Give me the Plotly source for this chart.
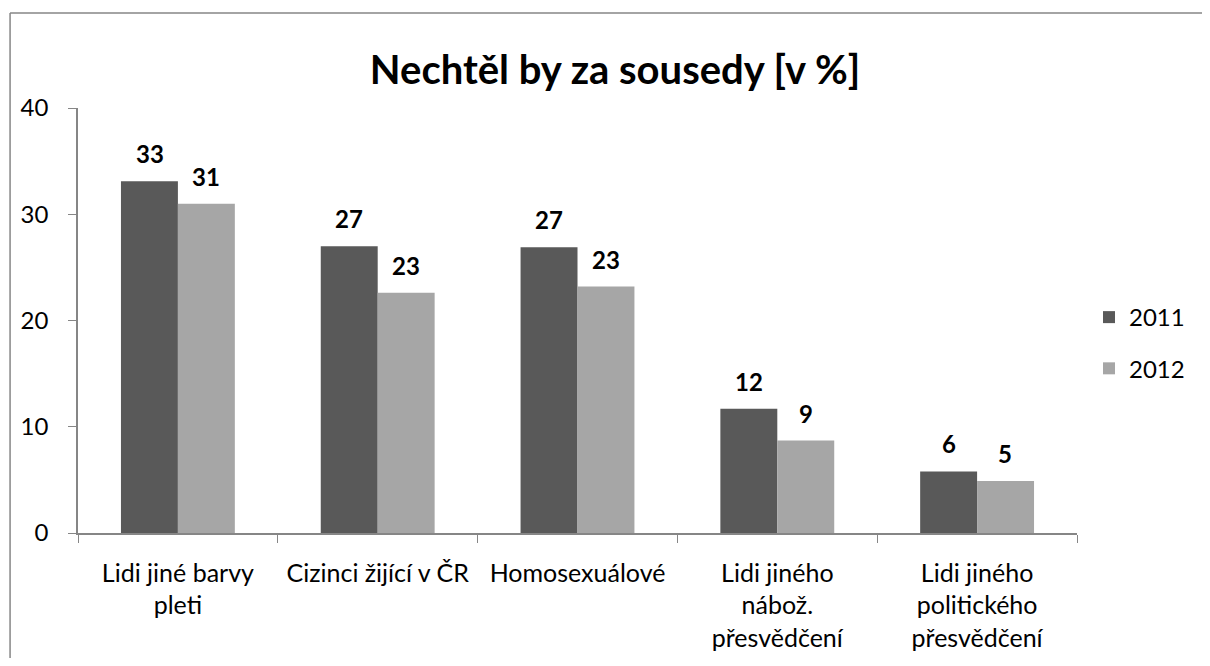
import plotly.graph_objects as go

categories = ["Lidi jiné barvy<br>pleti", "Cizinci žijící v ČR", "Homosexuálové",
              "Lidi jiného<br>nábož.<br>přesvědčení", "Lidi jiného<br>politického<br>přesvědčení"]
series_names = ["2011", "2012"]
values_2011 = [33.1, 27.0, 26.9, 11.7, 5.8]
values_2012 = [31.0, 22.6, 23.2, 8.7, 4.9]
colors = ["#595959", "#A6A6A6"]
y_ticks = [0, 10, 20, 30, 40]

FONT = "Lato"
fig = go.Figure()
for name, vals, col in zip(series_names, [values_2011, values_2012], colors):
    fig.add_trace(go.Bar(name=name, x=categories, y=vals, marker_color=col,
                         marker_line_width=0, legendgroup=name))

# data labels
bar_half = 0.142
for s, vals in enumerate([values_2011, values_2012]):
    off = -bar_half if s == 0 else bar_half
    for i, v in enumerate(vals):
        fig.add_annotation(x=i + off, y=v, xref="x", yref="y", text=f"<b>{round(v)}</b>",
                           showarrow=False, yanchor="bottom", yshift=11,
                           font=dict(family=FONT, size=24, color="#000000"))

# outer border (left and top edges visible)
border = dict(color="#868686", width=1.5)
fig.add_shape(type="line", xref="paper", yref="paper", x0=-0.068, x1=-0.068, y0=-0.6, y1=1.2235,
              line=border, layer="below")
fig.add_shape(type="line", xref="paper", yref="paper", x0=-0.068, x1=1.4, y0=1.2235, y1=1.2235,
              line=border, layer="below")

fig.update_layout(
    width=1194, height=650,
    margin=dict(l=70, r=110, t=100, b=125),
    paper_bgcolor="white", plot_bgcolor="white",
    barmode="group", bargap=0.43, bargroupgap=0,
    title=dict(text="<b>Nechtěl by za sousedy [v %]</b>", x=0.5084, xref="container", xanchor="center",
               y=0.9046, yref="container", yanchor="middle",
               font=dict(family=FONT, size=40, color="#000000")),
    font=dict(family=FONT, size=24, color="#000000"),
    legend=dict(x=1.012, y=0.447, xanchor="left", yanchor="middle", tracegroupgap=17,
                font=dict(family=FONT, size=24), itemwidth=30, bgcolor="rgba(0,0,0,0)"),
    showlegend=True,
)
fig.update_xaxes(type="category", showline=True, linecolor="#868686", linewidth=1.5,
                 ticks="outside", ticklen=8, tickcolor="#868686", tickson="boundaries",
                 showgrid=False, tickfont=dict(family=FONT, size=25, color="#000000"),
                 ticklabelstandoff=17, tickangle=0, automargin=False)
fig.update_yaxes(range=[0, 40], tickvals=y_ticks, showline=True, linecolor="#868686", linewidth=1.5,
                 ticks="outside", ticklen=8, tickcolor="#868686", showgrid=False, zeroline=False,
                 tickfont=dict(family=FONT, size=24, color="#000000"), ticklabelstandoff=15,
                 automargin=False)

fig.write_html("out.html")
